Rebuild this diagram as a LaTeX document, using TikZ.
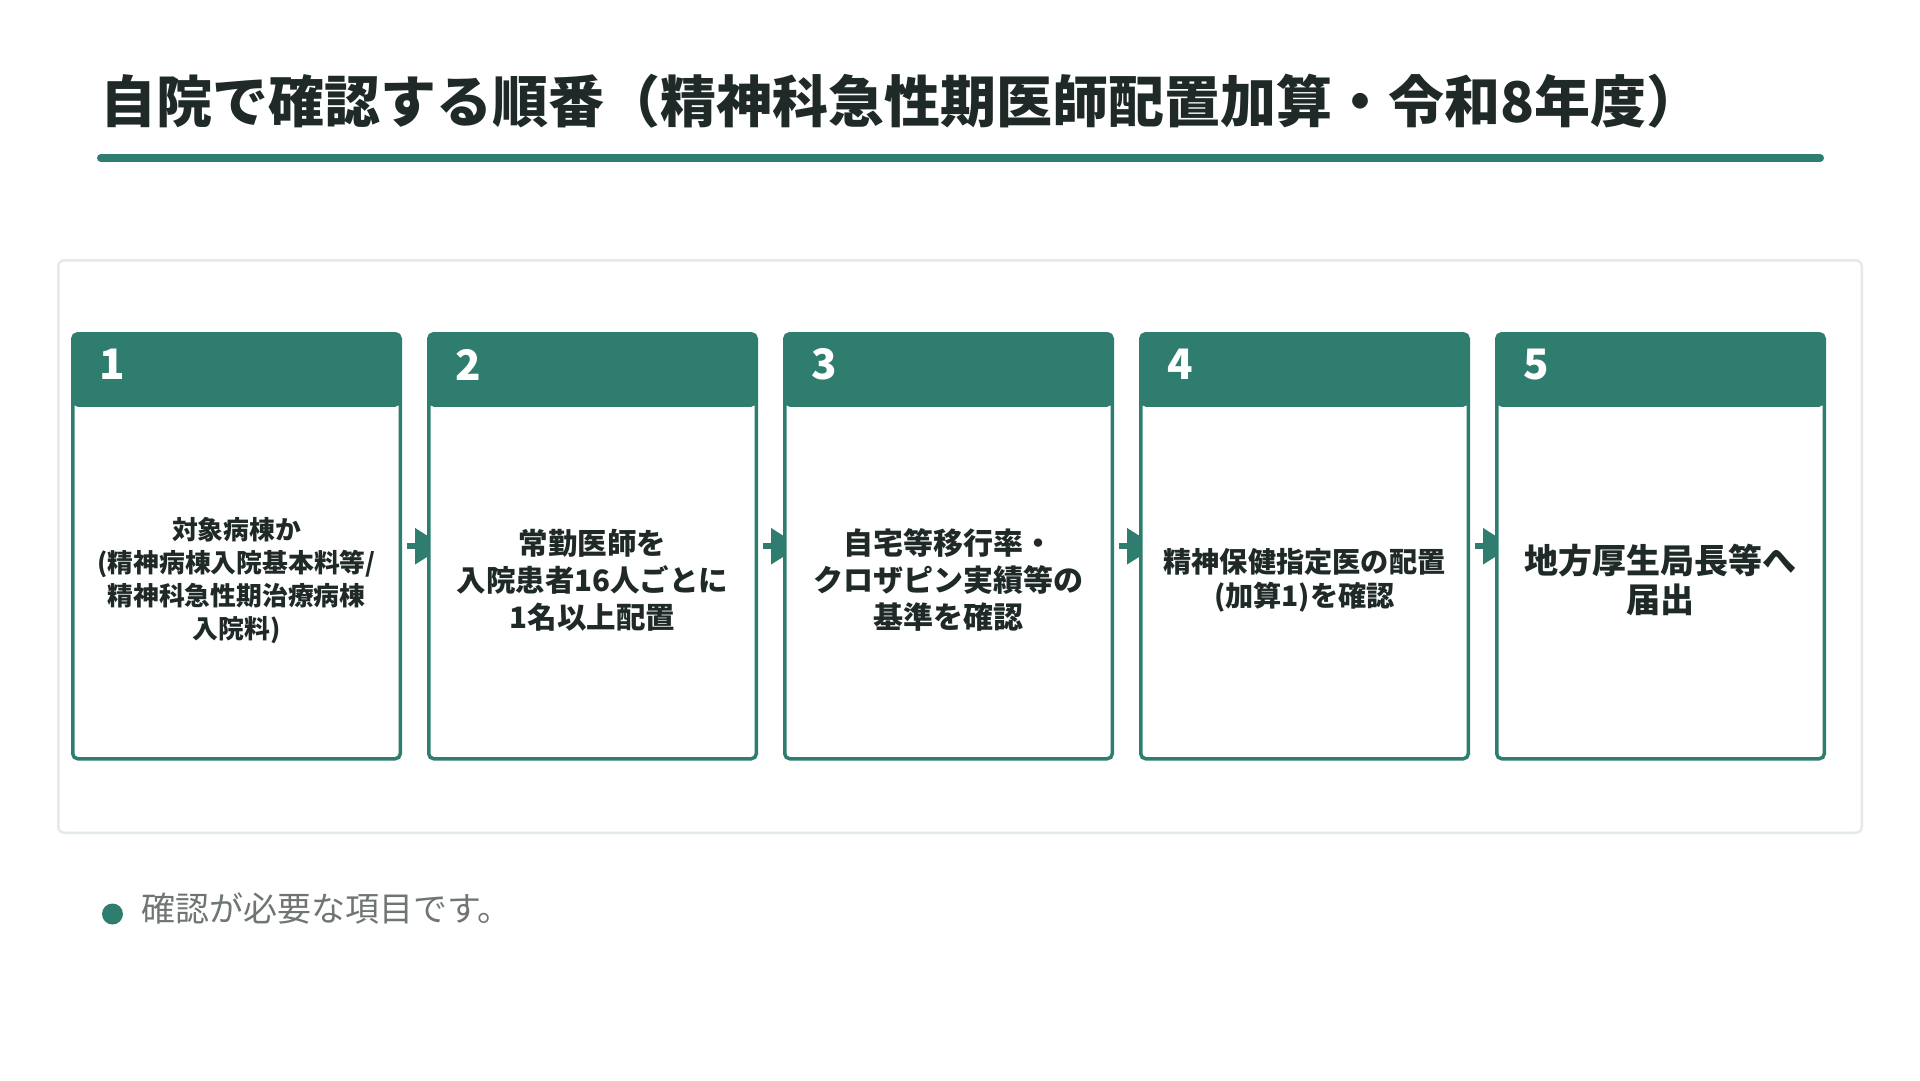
\documentclass[tikz,border=0pt]{standalone}
\usepackage{fontspec}
\setmainfont{Noto Sans CJK JP}
\usetikzlibrary{arrows.meta,chains,positioning,scopes,backgrounds}
\pgfdeclarelayer{arrows}
\pgfsetlayers{background,arrows,main}
\definecolor{stepgreen}{HTML}{2F7D6E}
\definecolor{inkdark}{HTML}{1F2A28}
\definecolor{framegray}{HTML}{E3EAE8}
\definecolor{notegray}{HTML}{6E7573}
\tikzset{
  panel/.style={draw=framegray, line width=2.5pt, fill=white, rounded corners=6pt,
    minimum width=1803.5pt, minimum height=572.5pt, inner sep=0pt},
  stepbox/.style={draw=stepgreen, line width=3.5pt, fill=white, rounded corners=5pt,
    minimum width=327.5pt, minimum height=425pt, inner sep=0pt,
    path picture={\fill[stepgreen] ([yshift=2pt]path picture bounding box.north west)
      rectangle ([yshift=-73pt]path picture bounding box.north east);}},
  stepnum/.style={anchor=west, inner sep=0pt, text=white,
    font=\fontsize{42pt}{48pt}\selectfont\bfseries},
  steptext/.style={align=center, inner sep=0pt, text=inkdark, font=\bfseries},
  steparrow/.style={draw=stepgreen, line width=6pt,
    -{Triangle[length=29pt,width=35pt]}},
  titlerule/.style={draw=stepgreen, line width=8pt, line cap=round}
}

\begin{document}
\begin{tikzpicture}[x=1pt, y=-1pt]
	\useasboundingbox (0,0) rectangle (1920,1080);

	% title
	\node[anchor=west, inner sep=0pt, text=inkdark,
	      font=\fontsize{56pt}{62pt}\selectfont\bfseries] (title) at (100,101)
	  {自院で確認する順番（精神科急性期医師配置加算・令和8年度）};
	\draw[titlerule] (101,158) -- (1820,158);

	% the five steps
	{ [start chain=going right, node distance=25pt]
		\node[stepbox, on chain] (s1) at (236.5,546.25) {};
		\node[stepbox, on chain] (s2) {};
		\node[stepbox, on chain] (s3) {};
		\node[stepbox, on chain] (s4) {};
		\node[stepbox, on chain] (s5) {};
	}
	\foreach \i in {1,...,5}
		\node[stepnum] (n\i) at ([xshift=28pt,yshift=-32.5pt]s\i.north west) {\i};

	\node[steptext, font=\fontsize{25.8pt}{33pt}\selectfont\bfseries] (t1)
	  at ([yshift=-34pt]s1.center)
	  {対象病棟か\\(精神病棟入院基本料等/\\精神科急性期治療病棟\\入院料)};
	\node[steptext, font=\fontsize{29.5pt}{37pt}\selectfont\bfseries] (t2)
	  at ([yshift=-34pt]s2.center)
	  {常勤医師を\\入院患者16人ごとに\\1名以上配置};
	\node[steptext, font=\fontsize{30pt}{37pt}\selectfont\bfseries] (t3)
	  at ([yshift=-34pt]s3.center)
	  {自宅等移行率・\\クロザピン実績等の\\基準を確認};
	\node[steptext, font=\fontsize{28.2pt}{34pt}\selectfont\bfseries] (t4)
	  at ([yshift=-34pt]s4.center)
	  {精神保健指定医の配置\\(加算1)を確認};
	\node[steptext, font=\fontsize{34pt}{39pt}\selectfont\bfseries] (t5)
	  at ([yshift=-34pt]s5.center)
	  {地方厚生局長等へ\\届出};

	% arrows sit under the boxes
	\begin{pgfonlayer}{arrows}
		\foreach \i [evaluate=\i as \j using int(\i+1)] in {1,...,4}
			\draw[steparrow] ([xshift=5pt]s\i.east) -- ([xshift=17pt]s\j.west);
	\end{pgfonlayer}
	\begin{scope}[on background layer]
		\node[panel] (panel) at (960,546.5) {};
	\end{scope}

	% note
	\node[circle, fill=stepgreen, minimum size=21pt, inner sep=0pt] (dot) at (112.5,914) {};
	\node[anchor=west, inner sep=0pt, text=notegray,
	      font=\fontsize{34pt}{40pt}\selectfont] (note) at (141,908)
	  {確認が必要な項目です。};
\end{tikzpicture}
\end{document}
